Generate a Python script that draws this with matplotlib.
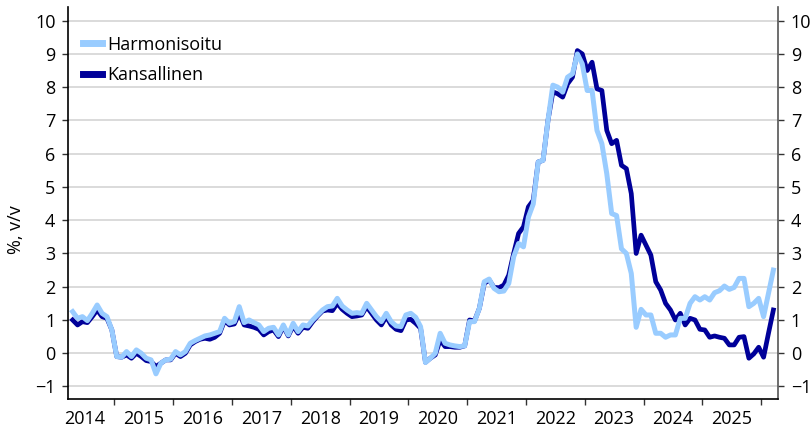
import matplotlib
matplotlib.use("Agg")
import matplotlib.pyplot as plt
import numpy as np

# Monthly data, April 2014 .. March 2026
start_year = 2014
start_month = 4
harmonisoitu = [
    1.25, 1.05, 1.1, 0.98, 1.2, 1.45, 1.2, 1.1, 0.7,            # 2014 Apr-Dec
    -0.1, -0.12, 0.05, -0.1, 0.1, 0.0, -0.15, -0.2, -0.62, -0.3, -0.2, -0.18,  # 2015
    0.05, -0.05, 0.05, 0.3, 0.38, 0.45, 0.52, 0.55, 0.6, 0.65, 1.05, 0.9,     # 2016
    0.95, 1.4, 0.92, 1.0, 0.92, 0.85, 0.65, 0.75, 0.78, 0.55, 0.85, 0.55,     # 2017
    0.9, 0.65, 0.85, 0.82, 1.0, 1.15, 1.3, 1.4, 1.42, 1.65, 1.42, 1.3,        # 2018
    1.2, 1.22, 1.2, 1.5, 1.3, 1.1, 0.95, 1.2, 0.95, 0.82, 0.8, 1.15,          # 2019
    1.2, 1.08, 0.8, -0.28, -0.15, 0.0, 0.6, 0.3, 0.25, 0.22, 0.2, 0.22,       # 2020
    0.95, 0.95, 1.35, 2.15, 2.23, 1.95, 1.85, 1.87, 2.1, 2.9, 3.3, 3.2,       # 2021
    4.09, 4.49, 5.75, 5.8, 7.0, 8.06, 8.0, 7.85, 8.3, 8.4, 9.0, 8.7,          # 2022
    7.9, 7.9, 6.7, 6.3, 5.4, 4.2, 4.14, 3.14, 3.0, 2.4, 0.78, 1.32,           # 2023
    1.15, 1.15, 0.6, 0.6, 0.48, 0.55, 0.55, 1.05, 1.05, 1.5, 1.7, 1.6,        # 2024
    1.7, 1.6, 1.82, 1.88, 2.02, 1.92, 1.98, 2.25, 2.25, 1.4, 1.5, 1.65,       # 2025
    1.1, 1.8, 2.5,                                                             # 2026
]
kansallinen = [
    1.0, 0.85, 0.95, 0.92, 1.1, 1.3, 1.1, 1.05, 0.7,
    -0.1, -0.12, -0.05, -0.15, 0.0, -0.1, -0.22, -0.25, -0.4, -0.3, -0.2, -0.2,
    0.0, -0.1, 0.0, 0.25, 0.35, 0.42, 0.45, 0.42, 0.48, 0.6, 0.98, 0.85,
    0.88, 1.2, 0.85, 0.82, 0.78, 0.72, 0.55, 0.65, 0.7, 0.5, 0.8, 0.52,
    0.82, 0.6, 0.78, 0.75, 0.95, 1.12, 1.27, 1.3, 1.28, 1.5, 1.32, 1.2,
    1.1, 1.12, 1.15, 1.4, 1.2, 1.0, 0.85, 1.1, 0.85, 0.72, 0.68, 1.0,
    1.02, 0.9, 0.75, -0.27, -0.15, -0.05, 0.4, 0.2, 0.2, 0.18, 0.18, 0.22,
    1.0, 0.97, 1.35, 2.1, 2.2, 1.98, 1.97, 2.05, 2.35, 3.0, 3.6, 3.8,
    4.4, 4.6, 5.75, 5.8, 7.0, 7.86, 7.8, 7.7, 8.1, 8.3, 9.1, 9.0,
    8.5, 8.75, 7.95, 7.9, 6.7, 6.3, 6.4, 5.65, 5.55, 4.8, 3.0, 3.55,
    3.25, 2.95, 2.15, 1.9, 1.5, 1.3, 1.0, 1.2, 0.85, 1.05, 1.0, 0.72,
    0.7, 0.48, 0.52, 0.48, 0.45, 0.25, 0.25, 0.48, 0.5, -0.15, -0.02, 0.18,
    -0.12, 0.6, 1.3,
]
year_labels = [str(y) for y in range(2014, 2026)]
y_ticks = list(range(-1, 11))
series_names = ["Harmonisoitu", "Kansallinen"]
y_label = "%, v/v"

n = len(harmonisoitu)
month_idx = np.arange(n) + (start_month - 1)
x = start_year + (month_idx + 0.5) / 12.0

plt.rcParams['font.family'] = ['Open Sans', 'DejaVu Sans']
plt.rcParams['font.size'] = 13

fig = plt.figure(figsize=(8.12, 4.30), dpi=100)
ax = fig.add_axes([68/812, 1 - 399.3/430, (778.3-68)/812, (399.3-7)/430])

light = '#99ccff'
dark = '#000099'
l2, = ax.plot(x, kansallinen, color=dark, lw=3.4, solid_joinstyle='round', zorder=3)
l1, = ax.plot(x, harmonisoitu, color=light, lw=3.6, solid_joinstyle='round', zorder=4)

ax.set_xlim(2014.2126, 2026.292)
ax.set_ylim(-1.385, 10.41)
ax.set_yticks(y_ticks)
ax.grid(axis='y', color='#d4d4d4', lw=1.2, zorder=0)
ax.set_axisbelow(True)

ax.set_xticks(range(2015, 2027))
ax.set_xticklabels([])
ax.set_xticks([int(l) + 0.5 for l in year_labels], minor=True)
ax.set_xticklabels(year_labels, minor=True)
ax.tick_params(axis='x', which='major', length=4, width=1, direction='out', color='#333333')
ax.tick_params(axis='x', which='minor', length=0, pad=8, labelsize=13)
ax.tick_params(axis='y', which='major', length=4, width=1, direction='out',
               left=True, right=True, labelleft=True, labelright=True, pad=5,
               labelsize=13, color='#333333')

ax.spines['top'].set_visible(False)
ax.spines['left'].set_color('black')
ax.spines['bottom'].set_color('black')
ax.spines['right'].set_color('#555555')
for s in ['left', 'bottom', 'right']:
    ax.spines[s].set_linewidth(1.2)

ax.set_ylabel(y_label, fontsize=13)
ax.yaxis.set_label_coords(-0.0605, 0.432)

leg = ax.legend([l1, l2], series_names, loc='upper left', bbox_to_anchor=(0.0207, 0.927),
                frameon=False, borderpad=0, borderaxespad=0, handlelength=1.05,
                handletextpad=0.3, labelspacing=0.7, fontsize=13)
for h in leg.get_lines():
    h.set_linewidth(5)

fig.savefig('out.png', dpi=100)
